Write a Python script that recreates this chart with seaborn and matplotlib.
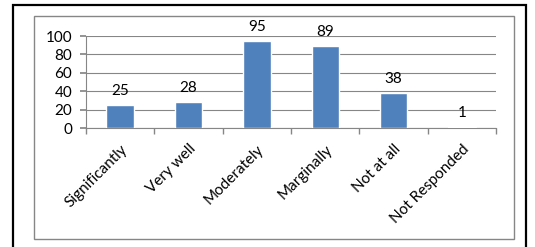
import numpy as np
import pandas as pd
import matplotlib
matplotlib.use("Agg")
import matplotlib.pyplot as plt
from matplotlib.patches import Rectangle
import seaborn as sns

# survey responses
categories = ["Significantly", "Very well", "Moderately", "Marginally",
              "Not at all", "Not Responded"]
counts = [25, 28, 95, 89, 38, 1]
y_ticks = [0, 20, 40, 60, 80, 100]

BAR_COLOR = "#4F81BD"
GRID_COLOR = "#868686"

sns.set_theme(style="white")
plt.rcParams["font.family"] = ["Lato", "DejaVu Sans"]

df = pd.DataFrame({"category": categories, "n": counts})

fig = plt.figure(figsize=(5.35, 2.47), dpi=100)
fig.patch.set_facecolor("white")
ax = fig.add_axes([86 / 535, 1 - 128 / 247, 410 / 535, 92 / 247])

sns.barplot(data=df, x="category", y="n", color=BAR_COLOR, width=0.4,
            saturation=1, ax=ax, zorder=3)

ax.set_ylim(0, 100)
ax.set_yticks(y_ticks)
ax.set_xlim(-0.5, len(categories) - 0.5)
ax.set_xlabel("")
ax.set_ylabel("")

# horizontal grid
ax.yaxis.grid(True, color=GRID_COLOR, linewidth=0.8)
ax.set_axisbelow(True)

for side in ["top", "right"]:
    ax.spines[side].set_visible(False)
for side in ["left", "bottom"]:
    ax.spines[side].set_color(GRID_COLOR)
    ax.spines[side].set_linewidth(0.8)

# tick marks between categories
ax.set_xticks(np.arange(-0.5, len(categories)), minor=True)
ax.tick_params(axis="x", which="minor", length=4, color=GRID_COLOR, bottom=True)
ax.tick_params(axis="x", which="major", length=0, pad=10)
ax.tick_params(axis="y", length=4, color=GRID_COLOR, left=True, labelsize=11,
               pad=6, labelcolor="black")
plt.setp(ax.get_xticklabels(), rotation=45, ha="right",
         rotation_mode="anchor", fontsize=11, color="black")

for c in ax.containers:
    ax.bar_label(c, padding=5, fontsize=11, clip_on=False, color="black")

# chart frames
fig.patches.append(Rectangle((13 / 535, -0.05), 513 / 535, 1 - 5 / 247 + 0.05,
                             transform=fig.transFigure, fill=False,
                             edgecolor="black", linewidth=1.6))
fig.patches.append(Rectangle((34 / 535, 1 - 239 / 247), 480 / 535, 223 / 247,
                             transform=fig.transFigure, fill=False,
                             edgecolor=GRID_COLOR, linewidth=1))

fig.savefig("out.png", dpi=100)
